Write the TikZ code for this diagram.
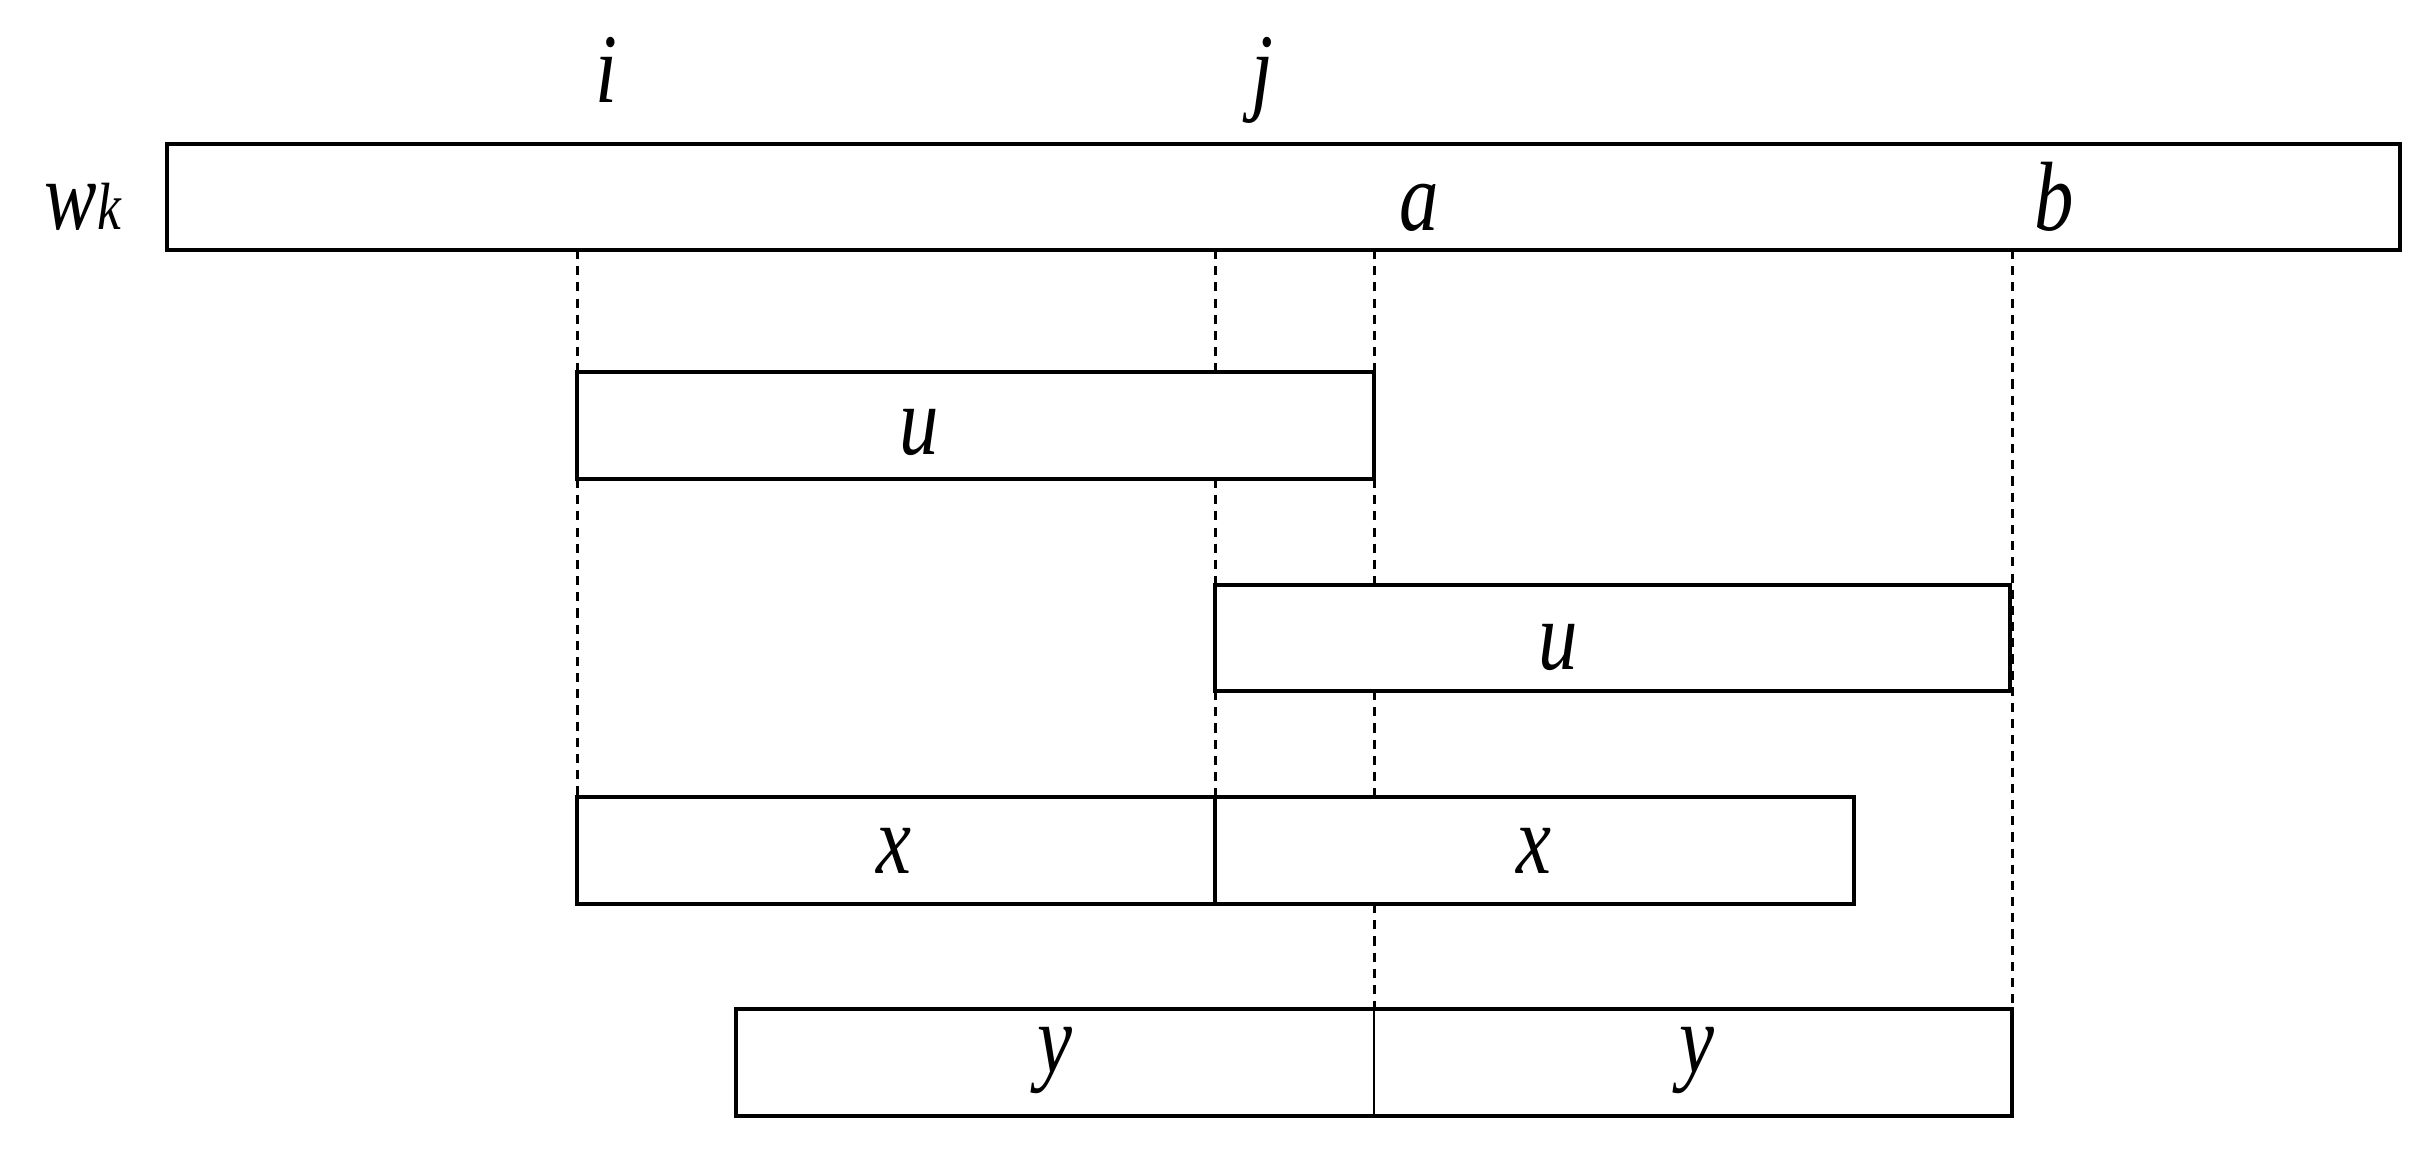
\documentclass[tikz,border=0pt]{standalone}
\usepackage{fontspec}
\setmainfont{Liberation Serif}[FakeStretch=0.8]
\begin{document}
\begin{tikzpicture}[x=0.01cm,y=-0.01cm,
  boxline/.style={line width=1.35pt,fill=white},
  thinline/.style={line width=0.8pt},
  guide/.style={line width=0.85pt,dash pattern=on 2.6pt off 2pt},
  lab/.style={anchor=base,inner sep=0pt,font=\fontsize{28}{30}\selectfont\itshape}]
\useasboundingbox (0,0) rectangle (2431,1149);
% guide coordinates
\coordinate (gi0) at (577,250);  \coordinate (gi1) at (577,372);
\coordinate (gi2) at (577,479);  \coordinate (gi3) at (577,797);
\coordinate (gj0) at (1215,250); \coordinate (gj1) at (1215,372);
\coordinate (gj2) at (1215,479); \coordinate (gj3) at (1215,585);
\coordinate (gj4) at (1215,691); \coordinate (gj5) at (1215,797);
\coordinate (ga0) at (1374,250); \coordinate (ga1) at (1374,372);
\coordinate (ga2) at (1374,479); \coordinate (ga3) at (1374,585);
\coordinate (ga4) at (1374,691); \coordinate (ga5) at (1374,797);
\coordinate (ga6) at (1374,904); \coordinate (ga7) at (1374,1009);
\coordinate (gb0) at (2012,250); \coordinate (gb1) at (2012,1009);
\draw[guide] (gi0) -- (gi1) (gi2) -- (gi3);
\draw[guide] (gj0) -- (gj1) (gj2) -- (gj3) (gj4) -- (gj5);
\draw[guide] (ga0) -- (ga1) (ga2) -- (ga3) (ga4) -- (ga5) (ga6) -- (ga7);
\draw[guide] (gb0) -- (gb1);
% boxes
\draw[boxline] (167,144) rectangle (2400,250);
\draw[boxline] (577,372) rectangle (1374,479);
\draw[boxline] (1215,585) rectangle (2010,691);
\draw[boxline] (577,797) rectangle (1854,904);
\coordinate (xd0) at (1215,797); \coordinate (xd1) at (1215,904);
\draw[line width=1.1pt] (xd0) -- (xd1);
\draw[boxline] (736,1009) rectangle (2012,1116);
\coordinate (yd0) at (1374,1009); \coordinate (yd1) at (1374,1116);
\draw[thinline] (yd0) -- (yd1);
% labels
\node[lab] (li) at (606,103) {i};
\node[lab] (lj) at (1262,103) {j};
\node[lab] (lw) at (83,230) {w{\fontsize{19}{20}\selectfont k}};
\node[lab] (la) at (1419,231) {a};
\node[lab] (lb) at (2054,231) {b};
\node[lab] (lu1) at (919,455) {u};
\node[lab] (lu2) at (1558,669) {u};
\node[lab] (lx1) at (894,873) {x};
\node[lab] (lx2) at (1534,873) {x};
\node[lab] (ly1) at (1055,1072) {y};
\node[lab] (ly2) at (1697,1072) {y};
\end{tikzpicture}
\end{document}
